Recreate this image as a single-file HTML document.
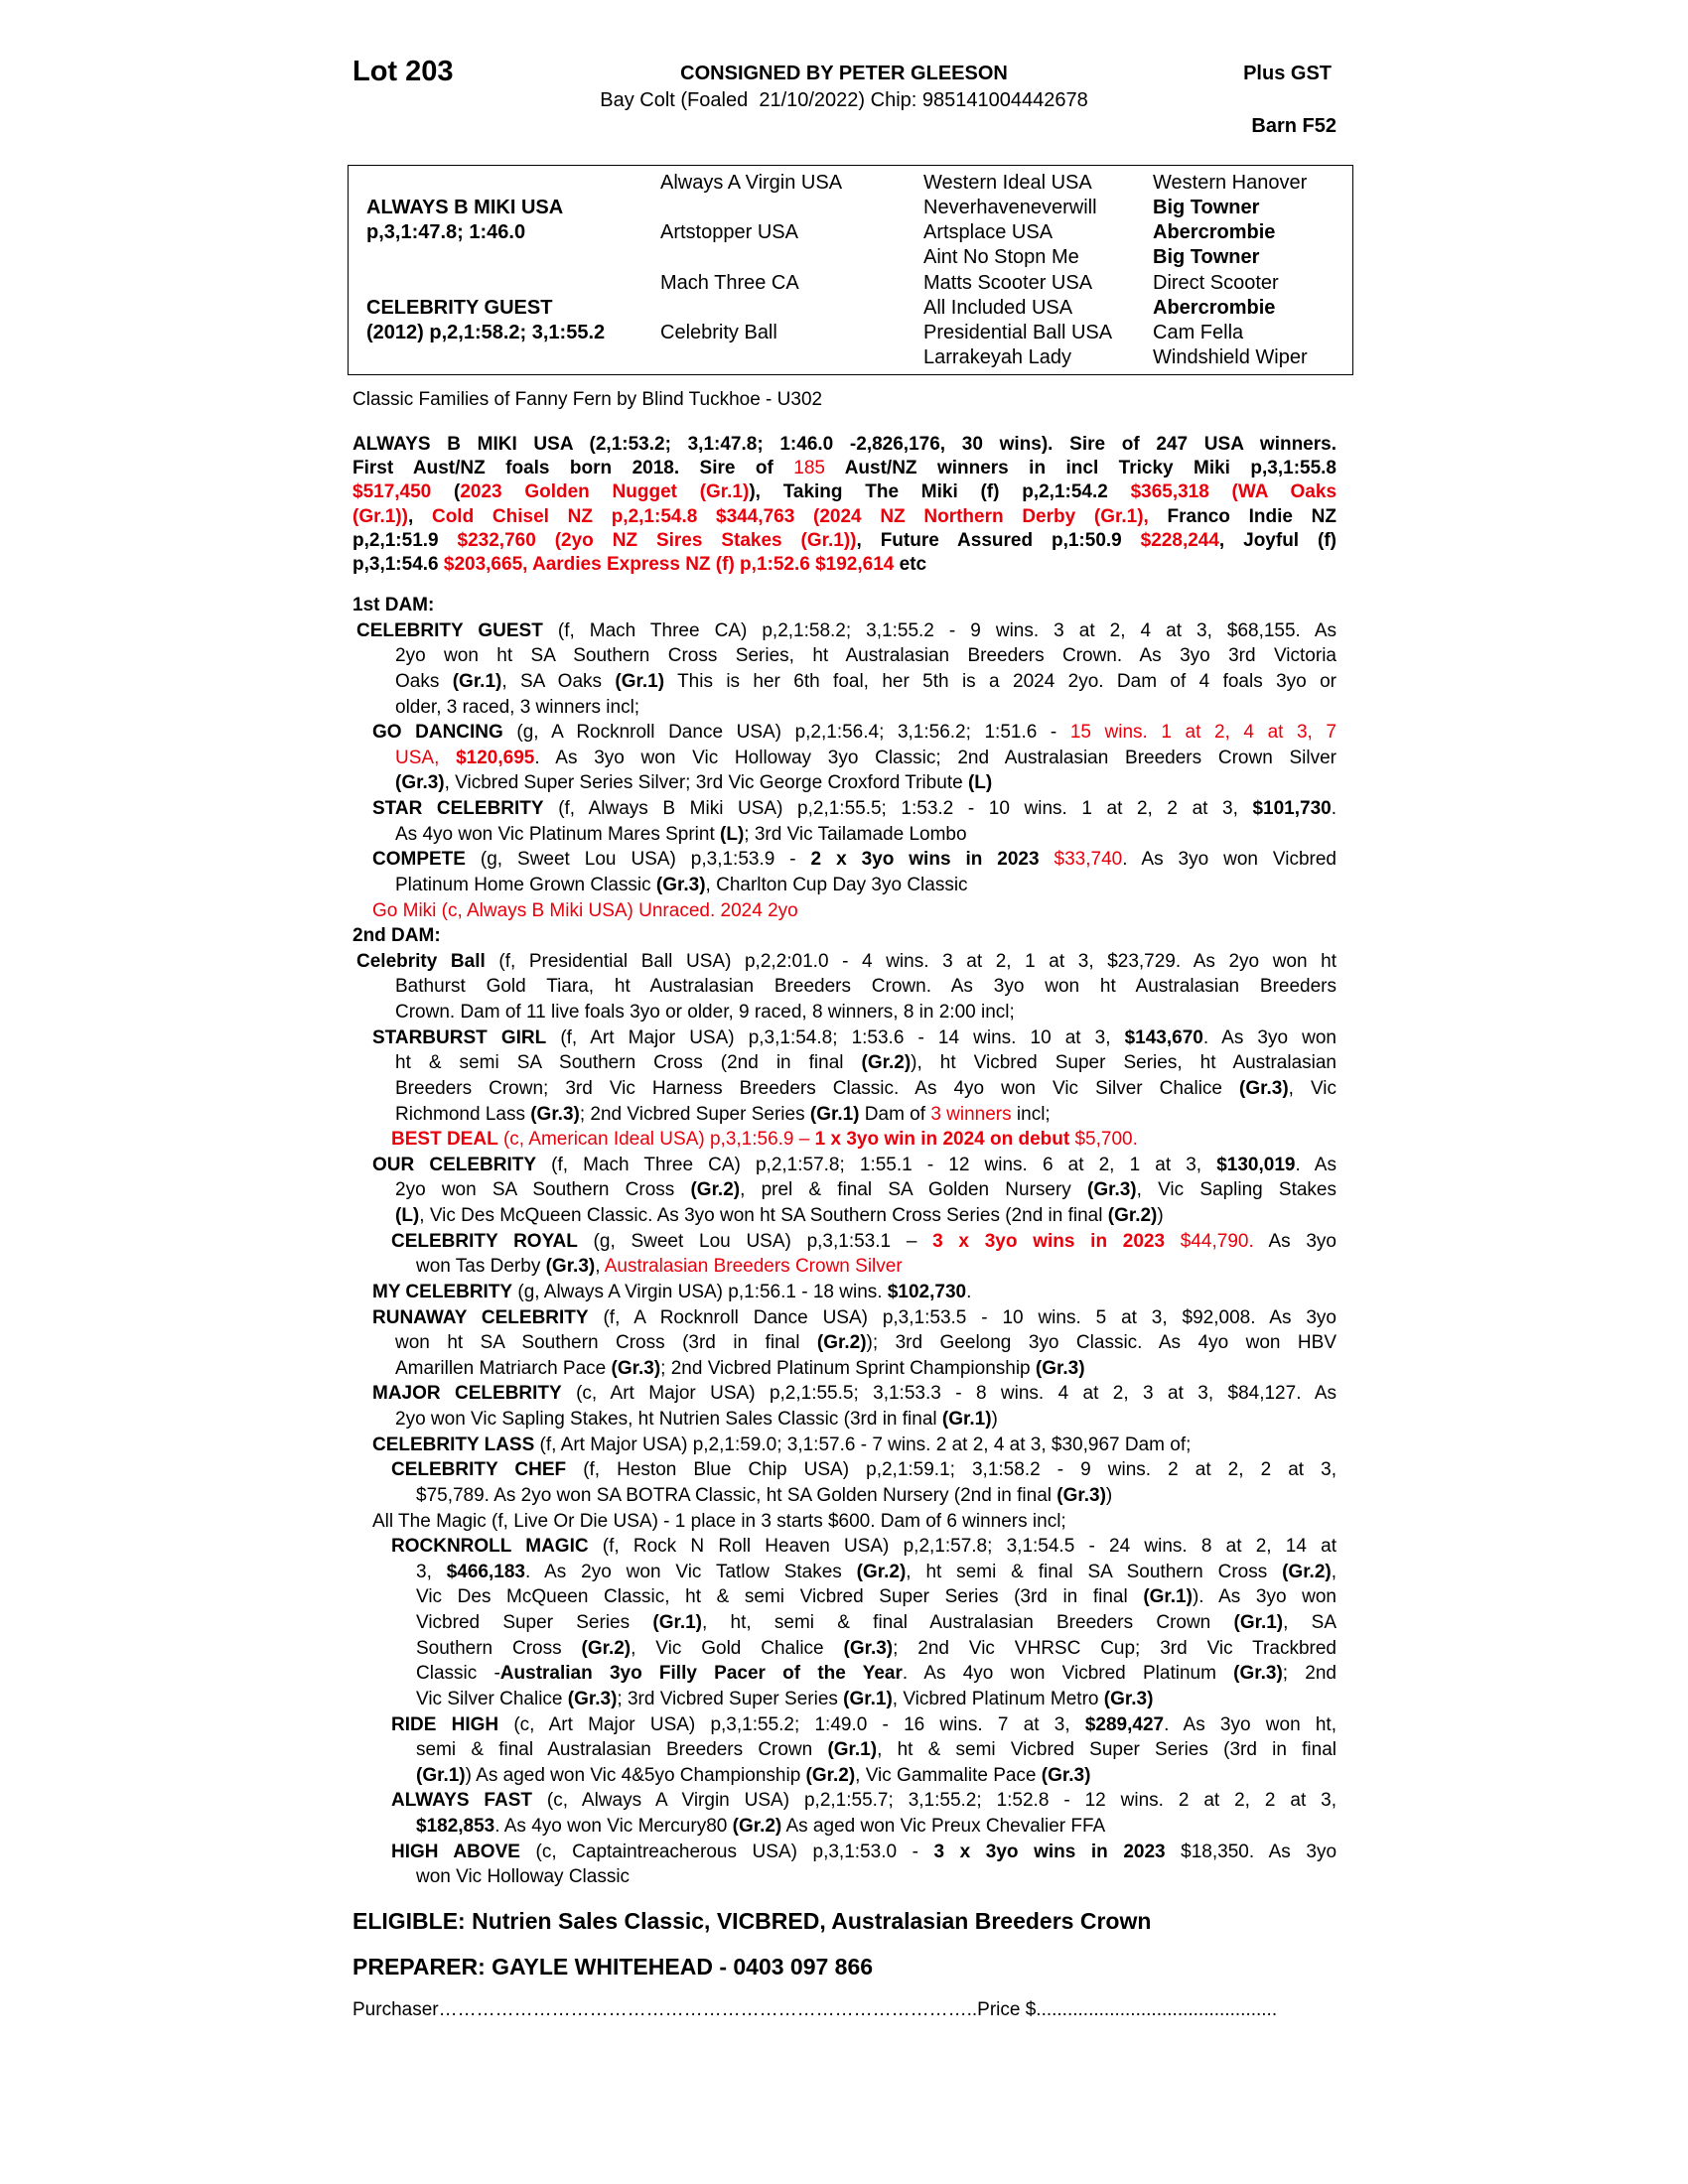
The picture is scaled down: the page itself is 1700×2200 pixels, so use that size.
<!DOCTYPE html>
<html><head><meta charset="utf-8">
<style>
html,body{margin:0;padding:0;background:#fff;}
body{width:1700px;height:2200px;position:relative;overflow:hidden;font-family:"Liberation Sans Narrow","Liberation Sans",Arial,sans-serif;color:#000;}
#w{position:absolute;left:0;top:0;width:1700px;height:2200px;}
.a{position:absolute;white-space:nowrap;line-height:25px;}
b{font-weight:bold;}
.r{color:#e8000b;}
.box{position:absolute;left:350px;top:166px;width:1013px;height:212px;border:1.5px solid #000;box-sizing:border-box;}
.ped{position:absolute;font-size:20px;line-height:25.15px;white-space:nowrap;top:172px;}
.sire{position:absolute;left:355px;top:436px;width:991px;font-size:19px;font-weight:bold;}
.sire div,.body div{height:24.2px;line-height:24.2px;overflow:hidden;text-align:justify;text-align-last:justify;}
.body{position:absolute;left:0;top:597px;width:1346px;font-size:19px;}
.body div{height:25.63px;line-height:25.63px;}
.sire div.e,.body div.e{text-align-last:left;}
.A{margin-left:359px}.B{margin-left:375px}.C{margin-left:398px}.D{margin-left:394px}.E{margin-left:419px}.Z{margin-left:355px}
</style></head><body><div id="w">
<div class="a" style="left:355px;top:57px;font-size:29px;font-weight:bold;line-height:30px;">Lot 203</div>
<div class="a" style="left:550px;top:62px;width:600px;text-align:center;font-size:20px;font-weight:bold;">CONSIGNED BY PETER GLEESON</div>
<div class="a" style="left:1141px;top:62px;width:200px;text-align:right;font-size:20px;font-weight:bold;">Plus GST</div>
<div class="a" style="left:450px;top:89px;width:800px;text-align:center;font-size:20px;">Bay Colt (Foaled&nbsp; 21/10/2022) Chip: 985141004442678</div>
<div class="a" style="left:1146px;top:115px;width:200px;text-align:right;font-size:20px;font-weight:bold;">Barn F52</div>

<div class="box"></div>
<div class="ped" style="left:369px;font-weight:bold;"><br>ALWAYS B MIKI USA<br>p,3,1:47.8; 1:46.0<br><br><br>CELEBRITY GUEST<br>(2012) p,2,1:58.2; 3,1:55.2</div>
<div class="ped" style="left:665px;">Always A Virgin USA<br><br>Artstopper USA<br><br>Mach Three CA<br><br>Celebrity Ball</div>
<div class="ped" style="left:930px;">Western Ideal USA<br>Neverhaveneverwill<br>Artsplace USA<br>Aint No Stopn Me<br>Matts Scooter USA<br>All Included USA<br>Presidential Ball USA<br>Larrakeyah Lady</div>
<div class="ped" style="left:1161px;">Western Hanover<br><b>Big Towner</b><br><b>Abercrombie</b><br><b>Big Towner</b><br>Direct Scooter<br><b>Abercrombie</b><br>Cam Fella<br>Windshield Wiper</div>

<div class="a" style="left:355px;top:390px;font-size:19px;">Classic Families of Fanny Fern by Blind Tuckhoe - U302</div>

<div class="sire">
<div>ALWAYS B MIKI USA (2,1:53.2; 3,1:47.8; 1:46.0 -2,826,176, 30 wins). Sire of 247 USA winners.</div>
<div>First Aust/NZ foals born 2018. Sire of <span class="r" style="font-weight:normal">185</span> Aust/NZ winners in incl Tricky Miki p,3,1:55.8</div>
<div><span class="r">$517,450</span> (<span class="r">2023 Golden Nugget (Gr.1)</span>), Taking The Miki (f) p,2,1:54.2 <span class="r">$365,318 (WA Oaks</span></div>
<div><span class="r">(Gr.1))</span>, <span class="r">Cold Chisel NZ p,2,1:54.8 $344,763 (2024 NZ Northern Derby (Gr.1),</span> Franco Indie NZ</div>
<div>p,2,1:51.9 <span class="r">$232,760 (2yo NZ Sires Stakes (Gr.1))</span>, Future Assured p,1:50.9 <span class="r">$228,244</span>, Joyful (f)</div>
<div class="e">p,3,1:54.6 <span class="r">$203,665, Aardies Express NZ (f) p,1:52.6 $192,614</span> etc</div>
</div>

<div class="body">
<div class="Z e"><b>1st DAM:</b></div>
<div class="A"><b>CELEBRITY GUEST</b> (f, Mach Three CA) p,2,1:58.2; 3,1:55.2 - 9 wins. 3 at 2, 4 at 3, $68,155. As</div>
<div class="C">2yo won ht SA Southern Cross Series, ht Australasian Breeders Crown. As 3yo 3rd Victoria</div>
<div class="C">Oaks <b>(Gr.1)</b>, SA Oaks <b>(Gr.1)</b> This is her 6th foal, her 5th is a 2024 2yo. Dam of 4 foals 3yo or</div>
<div class="C e">older, 3 raced, 3 winners incl;</div>
<div class="B"><b>GO DANCING</b> (g, A Rocknroll Dance USA) p,2,1:56.4; 3,1:56.2; 1:51.6 - <span class="r">15 wins. 1 at 2, 4 at 3, 7</span></div>
<div class="C"><span class="r">USA, <b>$120,695</b></span>. As 3yo won Vic Holloway 3yo Classic; 2nd Australasian Breeders Crown Silver</div>
<div class="C e"><b>(Gr.3)</b>, Vicbred Super Series Silver; 3rd Vic George Croxford Tribute <b>(L)</b></div>
<div class="B"><b>STAR CELEBRITY</b> (f, Always B Miki USA) p,2,1:55.5; 1:53.2 - 10 wins. 1 at 2, 2 at 3, <b>$101,730</b>.</div>
<div class="C e">As 4yo won Vic Platinum Mares Sprint <b>(L)</b>; 3rd Vic Tailamade Lombo</div>
<div class="B"><b>COMPETE</b> (g, Sweet Lou USA) p,3,1:53.9 - <b>2 x 3yo wins in 2023</b> <span class="r">$33,740</span>. As 3yo won Vicbred</div>
<div class="C e">Platinum Home Grown Classic <b>(Gr.3)</b>, Charlton Cup Day 3yo Classic</div>
<div class="B e r">Go Miki (c, Always B Miki USA) Unraced. 2024 2yo</div>
<div class="Z e"><b>2nd DAM:</b></div>
<div class="A"><b>Celebrity Ball</b> (f, Presidential Ball USA) p,2,2:01.0 - 4 wins. 3 at 2, 1 at 3, $23,729. As 2yo won ht</div>
<div class="C">Bathurst Gold Tiara, ht Australasian Breeders Crown. As 3yo won ht Australasian Breeders</div>
<div class="C e">Crown. Dam of 11 live foals 3yo or older, 9 raced, 8 winners, 8 in 2:00 incl;</div>
<div class="B"><b>STARBURST GIRL</b> (f, Art Major USA) p,3,1:54.8; 1:53.6 - 14 wins. 10 at 3, <b>$143,670</b>. As 3yo won</div>
<div class="C">ht &amp; semi SA Southern Cross (2nd in final <b>(Gr.2)</b>), ht Vicbred Super Series, ht Australasian</div>
<div class="C">Breeders Crown; 3rd Vic Harness Breeders Classic. As 4yo won Vic Silver Chalice <b>(Gr.3)</b>, Vic</div>
<div class="C e">Richmond Lass <b>(Gr.3)</b>; 2nd Vicbred Super Series <b>(Gr.1)</b> Dam of <span class="r">3 winners</span> incl;</div>
<div class="D e r"><b>BEST DEAL</b> (c, American Ideal USA) p,3,1:56.9 – <b>1 x 3yo win in 2024 on debut</b> $5,700.</div>
<div class="B"><b>OUR CELEBRITY</b> (f, Mach Three CA) p,2,1:57.8; 1:55.1 - 12 wins. 6 at 2, 1 at 3, <b>$130,019</b>. As</div>
<div class="C">2yo won SA Southern Cross <b>(Gr.2)</b>, prel &amp; final SA Golden Nursery <b>(Gr.3)</b>, Vic Sapling Stakes</div>
<div class="C e"><b>(L)</b>, Vic Des McQueen Classic. As 3yo won ht SA Southern Cross Series (2nd in final <b>(Gr.2)</b>)</div>
<div class="D"><b>CELEBRITY ROYAL</b> (g, Sweet Lou USA) p,3,1:53.1 – <span class="r"><b>3 x 3yo wins in 2023</b> $44,790.</span> As 3yo</div>
<div class="E e">won Tas Derby <b>(Gr.3)</b>, <span class="r">Australasian Breeders Crown Silver</span></div>
<div class="B e"><b>MY CELEBRITY</b> (g, Always A Virgin USA) p,1:56.1 - 18 wins. <b>$102,730</b>.</div>
<div class="B"><b>RUNAWAY CELEBRITY</b> (f, A Rocknroll Dance USA) p,3,1:53.5 - 10 wins. 5 at 3, $92,008. As 3yo</div>
<div class="C">won ht SA Southern Cross (3rd in final <b>(Gr.2)</b>); 3rd Geelong 3yo Classic. As 4yo won HBV</div>
<div class="C e">Amarillen Matriarch Pace <b>(Gr.3)</b>; 2nd Vicbred Platinum Sprint Championship <b>(Gr.3)</b></div>
<div class="B"><b>MAJOR CELEBRITY</b> (c, Art Major USA) p,2,1:55.5; 3,1:53.3 - 8 wins. 4 at 2, 3 at 3, $84,127. As</div>
<div class="C e">2yo won Vic Sapling Stakes, ht Nutrien Sales Classic (3rd in final <b>(Gr.1)</b>)</div>
<div class="B e"><b>CELEBRITY LASS</b> (f, Art Major USA) p,2,1:59.0; 3,1:57.6 - 7 wins. 2 at 2, 4 at 3, $30,967 Dam of;</div>
<div class="D"><b>CELEBRITY CHEF</b> (f, Heston Blue Chip USA) p,2,1:59.1; 3,1:58.2 - 9 wins. 2 at 2, 2 at 3,</div>
<div class="E e">$75,789. As 2yo won SA BOTRA Classic, ht SA Golden Nursery (2nd in final <b>(Gr.3)</b>)</div>
<div class="B e">All The Magic (f, Live Or Die USA) - 1 place in 3 starts $600. Dam of 6 winners incl;</div>
<div class="D"><b>ROCKNROLL MAGIC</b> (f, Rock N Roll Heaven USA) p,2,1:57.8; 3,1:54.5 - 24 wins. 8 at 2, 14 at</div>
<div class="E">3, <b>$466,183</b>. As 2yo won Vic Tatlow Stakes <b>(Gr.2)</b>, ht semi &amp; final SA Southern Cross <b>(Gr.2)</b>,</div>
<div class="E">Vic Des McQueen Classic, ht &amp; semi Vicbred Super Series (3rd in final <b>(Gr.1)</b>). As 3yo won</div>
<div class="E">Vicbred Super Series <b>(Gr.1)</b>, ht, semi &amp; final Australasian Breeders Crown <b>(Gr.1)</b>, SA</div>
<div class="E">Southern Cross <b>(Gr.2)</b>, Vic Gold Chalice <b>(Gr.3)</b>; 2nd Vic VHRSC Cup; 3rd Vic Trackbred</div>
<div class="E">Classic -<b>Australian 3yo Filly Pacer of the Year</b>. As 4yo won Vicbred Platinum <b>(Gr.3)</b>; 2nd</div>
<div class="E e">Vic Silver Chalice <b>(Gr.3)</b>; 3rd Vicbred Super Series <b>(Gr.1)</b>, Vicbred Platinum Metro <b>(Gr.3)</b></div>
<div class="D"><b>RIDE HIGH</b> (c, Art Major USA) p,3,1:55.2; 1:49.0 - 16 wins. 7 at 3, <b>$289,427</b>. As 3yo won ht,</div>
<div class="E">semi &amp; final Australasian Breeders Crown <b>(Gr.1)</b>, ht &amp; semi Vicbred Super Series (3rd in final</div>
<div class="E e"><b>(Gr.1)</b>) As aged won Vic 4&amp;5yo Championship <b>(Gr.2)</b>, Vic Gammalite Pace <b>(Gr.3)</b></div>
<div class="D"><b>ALWAYS FAST</b> (c, Always A Virgin USA) p,2,1:55.7; 3,1:55.2; 1:52.8 - 12 wins. 2 at 2, 2 at 3,</div>
<div class="E e"><b>$182,853</b>. As 4yo won Vic Mercury80 <b>(Gr.2)</b> As aged won Vic Preux Chevalier FFA</div>
<div class="D"><b>HIGH ABOVE</b> (c, Captaintreacherous USA) p,3,1:53.0 - <b>3 x 3yo wins in 2023</b> $18,350. As 3yo</div>
<div class="E e">won Vic Holloway Classic</div>
</div>

<div class="a" style="left:355px;top:1923px;font-size:23px;font-weight:bold;">ELIGIBLE: Nutrien Sales Classic, VICBRED, Australasian Breeders Crown</div>
<div class="a" style="left:355px;top:1969px;font-size:23px;font-weight:bold;">PREPARER: GAYLE WHITEHEAD - 0403 097 866</div>
<div class="a" style="left:355px;top:2012px;font-size:19px;">Purchaser…………………………………………………………………………..Price $..............................................</div>
</div></body></html>
